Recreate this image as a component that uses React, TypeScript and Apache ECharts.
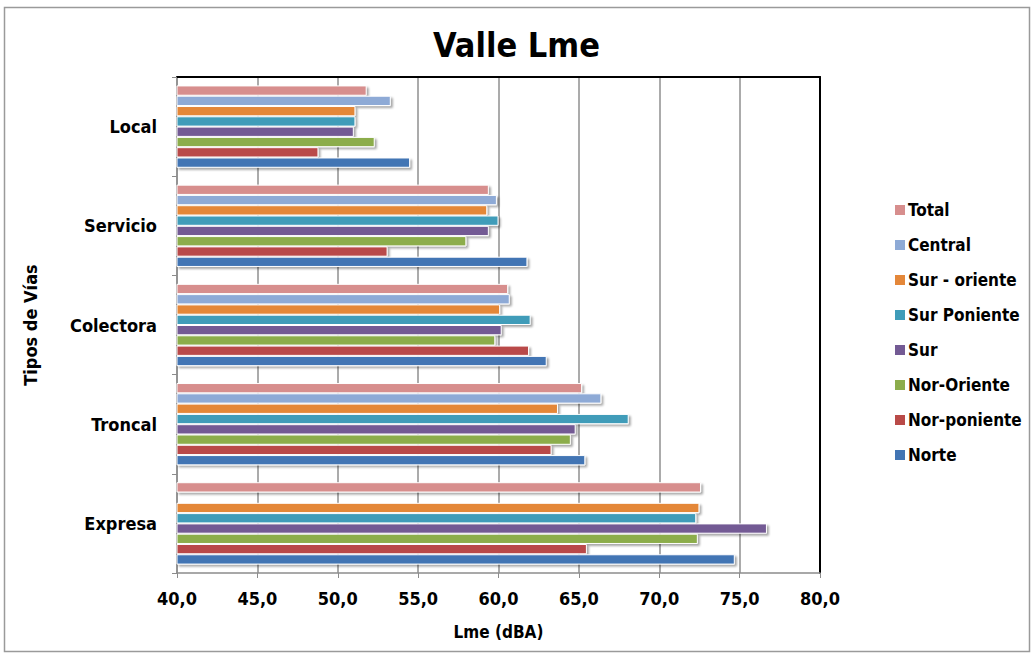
import React, { useEffect, useRef } from "react";
import * as echarts from "echarts";

const categories = ["Expresa", "Troncal", "Colectora", "Servicio", "Local"];

const seriesNames = [
  "Total",
  "Central",
  "Sur - oriente",
  "Sur Poniente",
  "Sur",
  "Nor-Oriente",
  "Nor-poniente",
  "Norte",
];

const total = [72.6, 65.2, 60.6, 59.4, 51.8];
const central = [null, 66.4, 60.7, 59.9, 53.3];
const surOriente = [72.5, 63.7, 60.1, 59.3, 51.1];
const surPoniente = [72.3, 68.1, 62.0, 60.0, 51.1];
const sur = [76.7, 64.8, 60.2, 59.4, 51.0];
const norOriente = [72.4, 64.5, 59.8, 58.0, 52.3];
const norPoniente = [65.5, 63.3, 61.9, 53.1, 48.8];
const norte = [74.7, 65.4, 63.0, 61.8, 54.5];

const seriesValues = [total, central, surOriente, surPoniente, sur, norOriente, norPoniente, norte];

const colors = ["#d78e8d", "#8eaad6", "#e48739", "#3f9cb9", "#735a94", "#8cad4c", "#b94a48", "#4275b4"];

const FONT = "'Liberation Sans Narrow', 'Arial Narrow', 'DejaVu Sans Condensed', sans-serif";

export default function App() {
  const ref = useRef<HTMLDivElement>(null);
  useEffect(() => {
    document.body.style.margin = "0";
    const chart = echarts.init(ref.current!, null, { renderer: "svg" });
    chart.setOption({
      animation: false,
      backgroundColor: "#ffffff",
      title: {
        text: "Valle Lme",
        left: "center",
        top: 23,
        textStyle: { fontFamily: FONT, fontWeight: "bold", fontSize: 34, color: "#000" },
      },
      graphic: [
        {
          type: "rect",
          shape: { x: 4.5, y: 7.5, width: 1025, height: 644 },
          style: { fill: "none", stroke: "#9a9a9a", lineWidth: 1.5 },
          silent: true,
        },
      ],
      legend: {
        orient: "vertical",
        left: 890,
        top: 195,
        itemWidth: 10,
        itemHeight: 10,
        itemGap: 15,
        icon: "rect",
        data: seriesNames,
        itemStyle: { borderWidth: 0, shadowBlur: 0, shadowOffsetX: 0, shadowOffsetY: 0 },
        textStyle: { fontFamily: FONT, fontWeight: "bold", fontSize: 17, color: "#000", lineHeight: 20, padding: [0, 0, 0, -2] },
      },
      grid: { left: 177, right: 213, top: 77, bottom: 80, containLabel: false },
      xAxis: [
        {
          type: "value",
          min: 40,
          max: 80,
          interval: 5,
          name: "Lme (dBA)",
          nameLocation: "middle",
          nameGap: 50,
          nameTextStyle: { fontFamily: FONT, fontWeight: "bold", fontSize: 17, color: "#000" },
          axisLine: { show: true, lineStyle: { color: "#8c8c8c", width: 1.5 } },
          axisTick: { show: true, length: 5, lineStyle: { color: "#8c8c8c" } },
          axisLabel: {
            margin: 16,
            fontFamily: FONT,
            fontWeight: "bold",
            fontSize: 18,
            color: "#000",
            formatter: (v: number) => v.toFixed(1).replace(".", ","),
          },
          splitLine: { show: true, lineStyle: { color: "#8f8f8f", width: 1.5 } },
        },
        {
          type: "value",
          position: "top",
          min: 40,
          max: 80,
          interval: 5,
          axisLine: { show: true, lineStyle: { color: "#000", width: 2 } },
          axisTick: { show: false },
          axisLabel: { show: false },
          splitLine: { show: false },
        },
      ],
      yAxis: [
        {
          type: "category",
          data: categories,
          name: "Tipos de Vías",
          nameLocation: "middle",
          nameGap: 138,
          nameTextStyle: { fontFamily: FONT, fontWeight: "bold", fontSize: 18, color: "#000" },
          axisLine: { show: true, lineStyle: { color: "#8c8c8c", width: 1.5 } },
          axisTick: { show: true, length: 5, lineStyle: { color: "#8c8c8c" } },
          axisLabel: { margin: 20, fontFamily: FONT, fontWeight: "bold", fontSize: 18, color: "#000" },
        },
        {
          type: "category",
          position: "right",
          data: categories,
          axisLine: { show: true, lineStyle: { color: "#000", width: 2 } },
          axisTick: { show: false },
          axisLabel: { show: false },
        },
      ],
      series: seriesNames.map((name, i) => ({
        name,
        type: "bar",
        data: seriesValues[i],
        barGap: "0%",
        barCategoryGap: "17%",
        itemStyle: {
          color: colors[i],
          borderColor: "#ffffff",
          borderWidth: 1,
          shadowColor: "rgba(0,0,0,0.35)",
          shadowBlur: 2,
          shadowOffsetX: 2,
          shadowOffsetY: 2,
        },
      })),
    });
    return () => chart.dispose();
  }, []);
  return <div ref={ref} style={{ width: 1033, height: 653 }} />;
}
